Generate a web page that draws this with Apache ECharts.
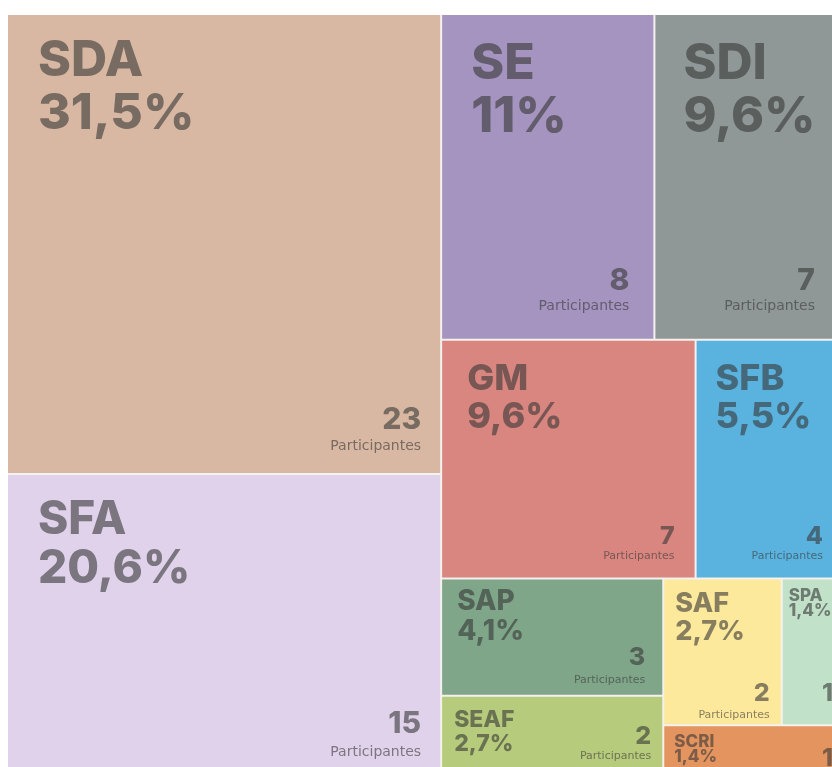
<!DOCTYPE html>
<html lang="pt">
<head>
<meta charset="UTF-8">
<title>Participantes por área</title>
<script src="https://cdn.jsdelivr.net/npm/echarts@6/dist/echarts.min.js"></script>
<style>
    html, body { margin: 0; padding: 0; background: #fff; }
    #chart { width: 832px; height: 767px; }
</style>
</head>
<body>
<div id="chart"></div>
<script>
    // dados, já em ordem decrescente (ordem do desenho)
    var siglas = ['SDA', 'SFA', 'SE', 'SDI', 'GM', 'SFB', 'SAP', 'SEAF', 'SAF', 'SPA', 'SCRI'];
    var participantes = [23, 15, 8, 7, 7, 4, 3, 2, 2, 1, 1];
    var percentuais = ['31,5%', '20,6%', '11%', '9,6%', '9,6%', '5,5%', '4,1%', '2,7%', '2,7%', '1,4%', '1,4%'];
    var rotulo = 'Participantes';

    // estilo de cada caixa: cor, fonte do nome, margens do texto
    var estilo = {
        SDA:  { cor: '#d9b8a3', nome: 50, lh: 53, topo: [19, 30], num: 30, sub: 14, dir: 19, base: [38, 20] },
        SFA:  { cor: '#e0d2ea', nome: 46, lh: 49, topo: [21, 30], num: 30, sub: 14, dir: 19, base: [34, 14] },
        SE:   { cor: '#a594bf', nome: 50, lh: 53, topo: [22, 29], num: 30, sub: 14, dir: 24, base: [43, 25] },
        SDI:  { cor: '#8f9896', nome: 50, lh: 53, topo: [22, 28], num: 30, sub: 14, dir: 25, base: [43, 25] },
        GM:   { cor: '#d8867f', nome: 36, lh: 38, topo: [19, 25], num: 25, sub: 11, dir: 20, base: [29, 16] },
        SFB:  { cor: '#5ab3de', nome: 36, lh: 38, topo: [19, 19], num: 25, sub: 11, dir: 17, base: [29, 16] },
        SAP:  { cor: '#80a68a', nome: 28, lh: 30, topo: [7, 15],  num: 25, sub: 11, dir: 17, base: [25, 9] },
        SEAF: { cor: '#b6cb7b', nome: 23, lh: 24, topo: [11, 12], num: 25, sub: 11, dir: 11, base: [24, 11] },
        SAF:  { cor: '#fde99b', nome: 27, lh: 28, topo: [10, 11], num: 25, sub: 11, dir: 11, base: [18, 4] },
        SPA:  { cor: '#c1e1c9', nome: 17, lh: 15, topo: [9, 6],   num: 25, sub: 0,  dir: 7,  base: [18, 0] },
        SCRI: { cor: '#e4945f', nome: 17, lh: 15, topo: [8, 10],  num: 25, sub: 0,  dir: 7,  base: [2, 0] }
    };

    var corTexto = 'rgba(55, 55, 55, 0.6)';
    var fonte = 'Inter, "Open Sans", sans-serif';
    var fonteRotulo = '"DejaVu Sans", sans-serif';
    var caixa = { left: 8, top: 15, width: 832, height: 758 };

    var chart = echarts.init(document.getElementById('chart'));

    function base(extra) {
        var s = {
            type: 'treemap',
            left: caixa.left, top: caixa.top, width: caixa.width, height: caixa.height,
            roam: false,
            nodeClick: false,
            breadcrumb: { show: false },
            sort: false,
            silent: true,
            emphasis: { disabled: true },
            itemStyle: { gapWidth: 2, borderWidth: 0, borderColor: 'rgba(0,0,0,0)' }
        };
        for (var k in extra) s[k] = extra[k];
        return s;
    }

    // caixas coloridas + nome e percentual no canto superior esquerdo
    var dadosCaixas = siglas.map(function (s, i) {
        var e = estilo[s];
        var txt = { fontSize: e.nome, lineHeight: e.lh, fontWeight: 800, fontFamily: fonte, color: corTexto };
        return {
            name: s,
            value: participantes[i],
            pct: percentuais[i],
            itemStyle: { color: e.cor },
            label: { padding: [e.topo[0], 0, 0, e.topo[1]], rich: { n: txt, p: txt } }
        };
    });

    // número de participantes no canto inferior direito
    var dadosNumero = siglas.map(function (s, i) {
        var e = estilo[s];
        return {
            name: s,
            value: participantes[i],
            itemStyle: { color: 'rgba(0,0,0,0)' },
            label: { fontSize: e.num, lineHeight: e.num, padding: [0, e.dir, e.base[0], 0] }
        };
    });

    // palavra "Participantes" abaixo do número
    var dadosRotulo = siglas.map(function (s, i) {
        var e = estilo[s];
        return {
            name: s,
            value: participantes[i],
            itemStyle: { color: 'rgba(0,0,0,0)' },
            label: { show: e.sub > 0, fontSize: e.sub || 11, lineHeight: e.sub || 11, padding: [0, e.dir, e.base[1], 0] }
        };
    });

    var option = {
        animation: false,
        backgroundColor: '#fff',
        series: [
            base({
                itemStyle: { gapWidth: 2, borderWidth: 0, borderColor: '#f4f1ee' },
                label: {
                    show: true,
                    position: 'insideTopLeft',
                    distance: 0,
                    formatter: function (p) { return '{n|' + p.name + '}\n{p|' + p.data.pct + '}'; }
                },
                data: dadosCaixas
            }),
            base({
                label: {
                    show: true,
                    position: 'insideBottomRight',
                    distance: 0,
                    color: corTexto,
                    fontFamily: fonte,
                    fontWeight: 800,
                    formatter: function (p) { return String(p.value); }
                },
                data: dadosNumero
            }),
            base({
                label: {
                    show: true,
                    position: 'insideBottomRight',
                    distance: 0,
                    color: corTexto,
                    fontFamily: fonteRotulo,
                    fontWeight: 400,
                    formatter: function () { return rotulo; }
                },
                data: dadosRotulo
            })
        ]
    };
    chart.setOption(option);
</script>
</body>
</html>
